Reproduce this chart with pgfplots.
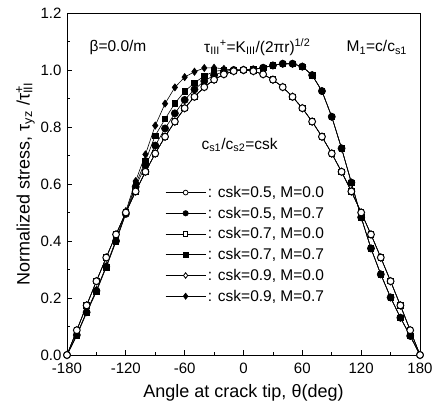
\documentclass[border=0pt]{standalone}
\usepackage{fontspec}
\setmainfont{Liberation Sans}
\usepackage{pgfplots}
\usepackage{pgfplotstable}
\pgfplotsset{compat=1.18}
\usetikzlibrary{calc}

% M = 0.0 : same curve for every csk
\pgfplotstableread{
theta tau
-180 0.000
-170 0.087
-160 0.174
-150 0.259
-140 0.342
-130 0.423
-120 0.500
-110 0.574
-100 0.643
-90 0.707
-80 0.766
-70 0.819
-60 0.866
-50 0.906
-40 0.940
-30 0.966
-20 0.985
-10 0.996
0 1.000
10 0.996
20 0.985
30 0.966
40 0.940
50 0.906
60 0.866
70 0.819
80 0.766
90 0.707
100 0.643
110 0.574
120 0.500
130 0.423
140 0.342
150 0.259
160 0.174
170 0.087
180 0.000
}\staticdata

% M = 0.7, csk = 0.5 / 0.7 / 0.9
\pgfplotstableread{
theta c5 c7 c9
-180 0.000 0.000 0.000
-170 0.070 0.068 0.072
-160 0.150 0.148 0.152
-150 0.225 0.222 0.228
-140 0.310 0.308 0.312
-130 0.400 0.398 0.405
-120 0.495 0.500 0.505
-110 0.590 0.598 0.610
-100 0.665 0.681 0.704
-90 0.735 0.770 0.805
-80 0.795 0.828 0.882
-70 0.848 0.883 0.939
-60 0.895 0.925 0.975
-50 0.932 0.955 0.994
-40 0.961 0.979 1.007
-30 0.982 0.995 1.008
-20 0.994 1.000 1.004
-10 1.000 1.000 1.000
0 1.000 1.000 1.000
10 1.002 1.002 1.002
20 1.008 1.008 1.008
30 1.016 1.016 1.016
40 1.022 1.022 1.022
50 1.022 1.022 1.022
60 1.012 1.012 1.012
70 0.982 0.982 0.982
80 0.926 0.926 0.926
90 0.836 0.836 0.836
100 0.725 0.725 0.725
110 0.605 0.605 0.605
120 0.483 0.483 0.483
130 0.374 0.374 0.374
140 0.283 0.283 0.283
150 0.202 0.202 0.202
160 0.131 0.131 0.131
170 0.067 0.067 0.067
180 0.000 0.000 0.000
}\movingdata

\begin{document}
\begin{tikzpicture}
\begin{axis}[
  scale only axis, width=353pt, height=342pt,
  xmin=-180, xmax=180, ymin=0, ymax=1.2,
  xtick={-180,-120,-60,0,60,120,180},
  ytick={0,0.2,0.4,0.6,0.8,1.0,1.2},
  minor x tick num=1, minor y tick num=1,
  tick pos=left, tick align=inside,
  major tick length=5pt, minor tick length=3pt,
  axis line style={line width=0.9pt},
  every tick/.style={black, line width=0.7pt},
  /pgf/number format/assume math mode=true,
  yticklabel style={/pgf/number format/fixed, /pgf/number format/fixed zerofill,
                    /pgf/number format/precision=1, xshift=-2pt},
  xticklabel style={yshift=-4pt},
  tick label style={font=\fontsize{15}{15}\selectfont},
  label style={font=\fontsize{18}{18}\selectfont},
  xlabel={Angle at crack tip, θ(deg)},
  xlabel style={yshift=-4pt},
  ylabel={Normalized stress, τ\textsubscript{yz} /τ\rlap{\textsuperscript{+}}\textsubscript{III}},
  ylabel style={yshift=-1pt},
  clip=false,
  legend cell align=left,
  legend style={at={(0.278,0.5)}, anchor=north west, draw=none, fill=none,
                font=\fontsize{15.5}{18}\selectfont, row sep=4pt, inner sep=0pt},
  legend image code/.code={\draw[mark repeat=2,mark phase=2,#1]
      plot coordinates {(0pt,0pt) (20pt,0pt) (40pt,0pt)};},
  every axis plot/.append style={black, line width=0.6pt},
]
% legend, in the original order
\addlegendimage{mark=*, mark size=2.4pt, mark options={fill=white, line width=0.8pt}}
\addlegendentry{: csk=0.5, M=0.0}
\addlegendimage{mark=*, mark size=2.7pt, mark options={fill=black}}
\addlegendentry{: csk=0.5, M=0.7}
\addlegendimage{mark=square*, mark size=2.2pt, mark options={fill=white, line width=0.8pt}}
\addlegendentry{: csk=0.7, M=0.0}
\addlegendimage{mark=square*, mark size=2.5pt, mark options={fill=black}}
\addlegendentry{: csk=0.7, M=0.7}
\addlegendimage{mark=diamond*, mark size=2.8pt, mark options={fill=white, line width=0.8pt}}
\addlegendentry{: csk=0.9, M=0.0}
\addlegendimage{mark=diamond*, mark size=3.1pt, mark options={fill=black}}
\addlegendentry{: csk=0.9, M=0.7}

% moving crack, M=0.7
\addplot[forget plot, mark=diamond*, mark size=3.6pt, mark options={fill=black}] table[x=theta, y=c9] {\movingdata};
\addplot[forget plot, mark=square*, mark size=2.7pt, mark options={fill=black}] table[x=theta, y=c7] {\movingdata};
\addplot[forget plot, mark=*, mark size=3.6pt, mark options={fill=black}] table[x=theta, y=c5] {\movingdata};
% static crack, M=0.0
\addplot[forget plot, mark=diamond*, mark size=3.6pt, mark options={fill=white, line width=1pt}] table[x=theta, y=tau] {\staticdata};
\addplot[forget plot, mark=square*, mark size=2.7pt, mark options={fill=white, line width=1pt}] table[x=theta, y=tau] {\staticdata};
\addplot[forget plot, mark=*, mark size=3.4pt, mark options={fill=white, line width=1pt}] table[x=theta, y=tau] {\staticdata};

\node[font=\fontsize{15.5}{15}\selectfont] at (axis cs:-128,1.08) {β=0.0/m};
\node[font=\fontsize{15.5}{15}\selectfont] at (axis cs:14,1.08)
  {τ\textsubscript{III}\textsuperscript{+}=K\textsubscript{III}/(2πr)\textsuperscript{1/2}};
\node[font=\fontsize{15.5}{15}\selectfont] at (axis cs:136,1.08) {M\textsubscript{1}=c/c\textsubscript{s1}};
\node[font=\fontsize{15.5}{15}\selectfont] at (axis cs:-4,0.737) {c\textsubscript{s1}/c\textsubscript{s2}=csk};
\end{axis}
\pgfresetboundingbox
\path[use as bounding box] ($(current axis.south west)+(-67pt,-54pt)$) rectangle ++(435pt,409pt);
\end{tikzpicture}
\end{document}
